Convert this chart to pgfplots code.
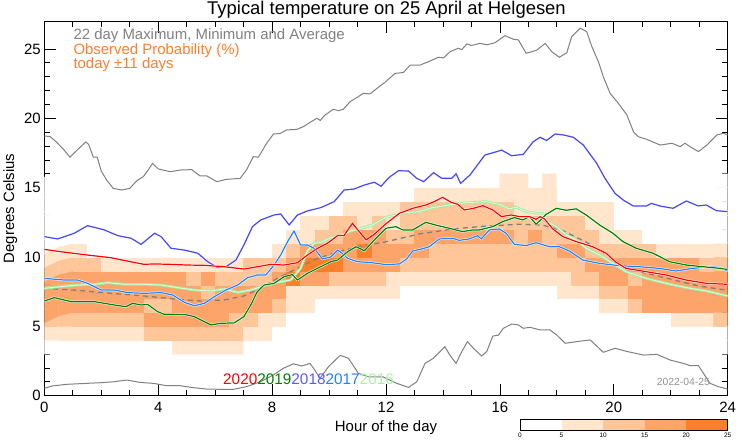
\documentclass[border=0pt]{standalone}
\usepackage{pgfplots}
\usepackage{pgfplotstable}
\pgfplotsset{compat=1.18}
\usepackage{fontspec}
\setmainfont{Liberation Sans}
\definecolor{c1}{RGB}{255,230,204}
\definecolor{c2}{RGB}{255,198,153}
\definecolor{c3}{RGB}{253,164,106}
\definecolor{c4}{RGB}{252,128,44}
\definecolor{cgrey}{RGB}{128,128,128}
\definecolor{corange}{RGB}{255,127,42}
\definecolor{y2020}{RGB}{255,0,0}
\definecolor{y2019}{RGB}{0,128,0}
\definecolor{y2018}{RGB}{70,70,255}
\definecolor{y2017}{RGB}{30,130,255}
\definecolor{y2016}{RGB}{160,235,160}
\definecolor{y2016in}{RGB}{225,255,225}
\definecolor{l2018}{RGB}{90,90,255}
\definecolor{l2016}{RGB}{170,240,170}

% heatmap levels (0 = <5%, 1 = 5-10%, 2 = 10-15%, 3 = 15-20%, 4 = 20-25%)
% rows: 3-4 C up to 15-16 C; 48 half-hour columns each
\pgfplotstableread[row sep=\\]{
c\\
0\\0\\0\\0\\0\\0\\0\\0\\ 0\\1\\1\\1\\1\\1\\0\\0\\ 0\\0\\0\\0\\0\\0\\0\\0\\ 0\\0\\0\\0\\0\\0\\0\\0\\ 0\\0\\0\\0\\0\\0\\0\\0\\ 0\\0\\0\\0\\0\\0\\0\\0\\
1\\1\\1\\1\\1\\1\\1\\2\\ 2\\2\\2\\2\\2\\2\\1\\1\\ 0\\0\\0\\0\\0\\0\\0\\0\\ 0\\0\\0\\0\\0\\0\\0\\0\\ 0\\0\\0\\0\\0\\0\\0\\0\\ 0\\0\\0\\0\\0\\0\\0\\0\\
2\\2\\2\\2\\2\\2\\2\\3\\ 3\\3\\3\\3\\3\\2\\2\\1\\ 1\\0\\0\\0\\0\\0\\0\\0\\ 0\\0\\0\\0\\0\\0\\0\\0\\ 0\\0\\0\\0\\0\\0\\0\\0\\ 0\\0\\0\\0\\1\\1\\1\\2\\
3\\3\\3\\3\\3\\3\\3\\2\\ 2\\3\\3\\3\\3\\3\\3\\3\\ 2\\1\\1\\0\\0\\0\\0\\0\\ 0\\0\\0\\0\\0\\0\\0\\0\\ 0\\0\\0\\0\\0\\0\\0\\1\\ 1\\2\\3\\3\\3\\3\\3\\3\\
3\\3\\3\\3\\3\\3\\3\\3\\ 3\\3\\3\\2\\3\\3\\3\\3\\ 3\\1\\1\\1\\1\\1\\1\\1\\ 1\\0\\0\\0\\0\\0\\0\\0\\ 0\\0\\0\\0\\1\\1\\1\\2\\ 2\\3\\3\\3\\3\\3\\3\\3\\
3\\3\\3\\3\\3\\3\\3\\3\\ 3\\3\\2\\3\\2\\2\\2\\2\\ 3\\4\\3\\3\\2\\2\\2\\2\\ 1\\1\\1\\1\\1\\1\\1\\1\\ 1\\1\\1\\1\\1\\2\\2\\3\\ 3\\2\\3\\3\\3\\3\\3\\3\\
2\\2\\2\\2\\1\\1\\1\\1\\ 1\\1\\1\\1\\1\\1\\2\\2\\ 2\\3\\4\\4\\4\\3\\3\\3\\ 3\\2\\2\\2\\2\\2\\2\\2\\ 2\\2\\2\\2\\2\\2\\3\\3\\ 3\\3\\3\\3\\3\\3\\2\\2\\
1\\1\\1\\0\\0\\0\\0\\0\\ 0\\0\\0\\0\\0\\0\\0\\0\\ 1\\2\\3\\3\\3\\3\\4\\3\\ 3\\3\\3\\2\\2\\2\\2\\2\\ 2\\2\\2\\2\\3\\3\\2\\2\\ 2\\2\\2\\1\\1\\1\\1\\1\\
0\\0\\0\\0\\0\\0\\0\\0\\ 0\\0\\0\\0\\0\\0\\0\\0\\ 0\\1\\1\\2\\2\\3\\3\\3\\ 2\\2\\3\\3\\3\\3\\3\\3\\ 3\\2\\3\\2\\2\\2\\2\\1\\ 1\\1\\0\\0\\0\\0\\0\\0\\
0\\0\\0\\0\\0\\0\\0\\0\\ 0\\0\\0\\0\\0\\0\\0\\0\\ 0\\0\\1\\1\\2\\2\\1\\2\\ 1\\2\\2\\2\\2\\2\\2\\2\\ 2\\2\\2\\2\\2\\2\\1\\1\\ 0\\0\\0\\0\\0\\0\\0\\0\\
0\\0\\0\\0\\0\\0\\0\\0\\ 0\\0\\0\\0\\0\\0\\0\\0\\ 0\\0\\0\\0\\0\\1\\1\\1\\ 1\\2\\2\\2\\2\\2\\2\\2\\ 2\\1\\1\\1\\1\\1\\1\\1\\ 0\\0\\0\\0\\0\\0\\0\\0\\
0\\0\\0\\0\\0\\0\\0\\0\\ 0\\0\\0\\0\\0\\0\\0\\0\\ 0\\0\\0\\0\\0\\0\\0\\0\\ 0\\0\\1\\1\\1\\1\\1\\1\\ 1\\1\\1\\1\\0\\0\\0\\0\\ 0\\0\\0\\0\\0\\0\\0\\0\\
0\\0\\0\\0\\0\\0\\0\\0\\ 0\\0\\0\\0\\0\\0\\0\\0\\ 0\\0\\0\\0\\0\\0\\0\\0\\ 0\\0\\0\\0\\0\\0\\0\\0\\ 1\\1\\0\\1\\0\\0\\0\\0\\ 0\\0\\0\\0\\0\\0\\0\\0\\
}\heatdata

\begin{document}
\begin{tikzpicture}
\useasboundingbox (0,0) rectangle (742bp,445bp);
\begin{axis}[
  at={(44.3bp,49.3bp)}, anchor=south west,
  scale only axis, width=683.4bp, height=374.5bp,
  xmin=0, xmax=24, ymin=0, ymax=27,
  xtick={0,4,...,24}, ytick={0,5,...,25},
  minor x tick num=3, minor y tick num=4,
  major tick length=12bp, minor tick length=6bp,
  tick align=inside, tick pos=both,
  axis line style={line width=1bp},
  tick style={black, line width=0.8bp},
  tick label style={font=\fontsize{15}{18}\selectfont},
  /pgf/number format/assume math mode=true,
  xticklabel style={yshift=-3bp},
  colormap={heat}{rgb255=(255,255,255) rgb255=(255,230,204) rgb255=(255,198,153) rgb255=(253,164,106) rgb255=(252,128,44)},
  colormap access=direct,
]
\addplot[matrix plot*, mesh/cols=48, point meta=explicit]
  table[x index=0, y index=0, x expr={0.25+0.5*mod(\coordindex,48)}, y expr={3.5+floor(\coordindex/48)}, meta index=0] {\heatdata};

% 22 day maximum
\addplot[cgrey, line width=1bp] coordinates {
(0,18.72) (0.2,18.69) (0.42,18.3) (0.7,17.7) (0.9,17.2) (1.2,17.8) (1.46,18.3) (1.56,18.1) (1.72,17.2) (1.86,17.2) (2.0,16.2) (2.19,15.55) (2.42,14.95) (2.72,14.83) (3.0,14.95) (3.25,15.5) (3.48,15.8) (3.65,16.27) (3.8,16.75) (4.0,16.35) (4.42,16.15) (4.77,16.27) (5.18,16.3) (5.47,15.84) (5.7,15.85) (6.06,15.43) (6.4,15.6) (6.76,15.65) (6.87,15.65) (7.1,16.27) (7.34,17.23) (7.52,17.2) (7.81,18.2) (8.05,18.87) (8.28,18.9) (8.51,19.16) (8.87,19.2) (9.1,19.4) (9.33,19.7) (9.57,20.0) (9.69,19.85) (9.86,20.24) (10.15,20.65) (10.33,20.55) (10.5,20.65) (10.74,21.2) (11.03,21.56) (11.2,21.8) (11.44,21.76) (11.79,22.33) (11.95,22.57) (12.32,23.24) (12.61,23.3) (12.85,23.84) (13.2,23.84) (13.49,24.08) (13.84,24.4) (14.02,24.35) (14.25,24.8) (14.54,25.05) (14.66,24.95) (14.84,25.36) (15.0,25.25) (15.3,25.4) (15.54,25.3) (15.83,25.45) (16.18,25.96) (16.47,25.7) (16.65,25.65) (16.92,24.69) (17.12,24.8) (17.3,24.92) (17.59,25.4) (17.82,24.8) (18.09,24.4) (18.35,24.73) (18.52,25.88) (18.82,26.5) (19.05,26.24) (19.23,25.16) (19.46,24.08) (19.63,23.0) (19.87,21.8) (20.16,21.08) (20.46,20.24) (20.69,19.03) (20.86,18.67) (21.16,18.48) (21.63,18.07) (22.04,18.2) (22.33,17.96) (22.5,18.2) (22.68,17.95) (22.97,17.6) (23.27,18.07) (23.62,18.8) (23.85,18.92) (24,18.8)
};
% 22 day minimum
\addplot[cgrey, line width=1bp] coordinates {
(0,0.53) (0.27,0.7) (0.79,0.82) (1.49,0.89) (2.0,0.94) (2.42,1.0) (2.9,1.13) (3.36,0.96) (3.83,0.89) (4.3,0.72) (4.77,0.72) (5.23,0.58) (5.7,0.48) (6.17,0.46) (6.64,0.46) (7.1,0.65) (7.58,1.0) (8.04,1.49) (8.39,1.97) (8.75,2.3) (9.04,2.14) (9.33,2.33) (9.5,1.85) (9.68,1.25) (9.98,2.09) (10.39,2.91) (10.68,2.7) (11.03,1.61) (11.4,1.35) (11.9,1.35) (12.38,0.89) (12.79,0.6) (13.08,1.0) (13.37,2.33) (13.66,2.69) (14.07,3.53) (14.25,2.9) (14.46,2.33) (14.66,3.17) (14.86,3.9) (15.07,3.42) (15.36,2.86) (15.54,3.19) (15.75,4.3) (15.95,4.37) (16.12,4.86) (16.42,5.17) (16.65,5.1) (16.82,4.86) (17.06,4.93) (17.41,4.74) (17.76,4.74) (18.0,4.37) (18.29,3.78) (18.7,3.9) (19.17,4.02) (19.4,3.58) (19.63,3.13) (20.05,3.42) (20.46,3.19) (21.04,2.93) (21.51,2.98) (21.98,2.57) (22.44,2.33) (22.68,2.17) (22.97,2.17) (23.15,1.61) (23.38,0.89) (23.67,0.65) (24,0.48)
};
% 22 day average
\addplot[cgrey, line width=1.3bp, dash pattern=on 5bp off 4bp] coordinates {
(0,7.74) (1.16,7.6) (2.33,7.38) (3.5,7.19) (4.67,6.95) (5.49,6.83) (6.31,6.9) (7.01,7.19) (7.6,7.74) (8.18,8.46) (8.89,9.18) (9.59,9.9) (10.53,10.5) (11.7,10.99) (12.0,11.1) (13.17,11.66) (14.34,12.02) (15.51,12.23) (16.68,12.36) (17.5,12.3) (18.21,11.9) (19.1,11.0) (19.61,10.34) (20.2,9.55) (21,8.9) (22,8.4) (23,7.9) (24,7.6)
};
% 2016
\addplot[y2016, line width=2.6bp] coordinates {
(0,7.74) (0.58,7.86) (1.17,7.98) (1.76,8.03) (2.23,8.15) (2.81,8.03) (3.51,8.03) (4.1,7.98) (4.69,7.79) (5.27,7.62) (5.85,7.55) (6.31,7.7) (6.79,7.45) (7.25,7.62) (7.72,7.93) (8.18,8.17) (8.65,8.34) (9.0,9.18) (9.24,10.43) (9.48,10.99) (9.71,11.05) (10.06,11.39) (10.41,11.56) (10.77,11.87) (11.12,12.07) (11.53,12.31) (12.0,12.87) (12.35,13.03) (12.71,13.2) (13.17,13.27) (13.64,13.56) (14.1,13.7) (14.57,13.87) (15.05,13.94) (15.51,13.99) (15.98,13.8) (16.34,13.46) (16.57,13.6) (16.92,13.27) (17.27,13.15) (17.5,13.15) (17.68,12.55) (17.98,12.19) (18.33,11.59) (18.68,11.23) (19.03,10.63) (19.5,10.14) (19.97,9.54) (20.43,8.94) (21.14,8.46) (21.84,8.1) (22.55,7.79) (23.25,7.55) (24,7.19)
};
\addplot[y2016in, line width=0.8bp] coordinates {
(0,7.74) (0.58,7.86) (1.17,7.98) (1.76,8.03) (2.23,8.15) (2.81,8.03) (3.51,8.03) (4.1,7.98) (4.69,7.79) (5.27,7.62) (5.85,7.55) (6.31,7.7) (6.79,7.45) (7.25,7.62) (7.72,7.93) (8.18,8.17) (8.65,8.34) (9.0,9.18) (9.24,10.43) (9.48,10.99) (9.71,11.05) (10.06,11.39) (10.41,11.56) (10.77,11.87) (11.12,12.07) (11.53,12.31) (12.0,12.87) (12.35,13.03) (12.71,13.2) (13.17,13.27) (13.64,13.56) (14.1,13.7) (14.57,13.87) (15.05,13.94) (15.51,13.99) (15.98,13.8) (16.34,13.46) (16.57,13.6) (16.92,13.27) (17.27,13.15) (17.5,13.15) (17.68,12.55) (17.98,12.19) (18.33,11.59) (18.68,11.23) (19.03,10.63) (19.5,10.14) (19.97,9.54) (20.43,8.94) (21.14,8.46) (21.84,8.1) (22.55,7.79) (23.25,7.55) (24,7.19)
};
% 2017
\addplot[y2017, line width=1.2bp, preaction={draw=white, line width=2.2bp}] coordinates {
(0,8.46) (0.7,8.34) (1.17,8.34) (1.52,8.1) (1.99,7.62) (2.46,7.62) (2.93,7.43) (3.51,7.38) (4.1,7.43) (4.51,7.26) (4.92,6.73) (5.27,6.49) (5.62,6.66) (5.97,7.14) (6.38,7.62) (6.79,7.98) (7.14,8.51) (7.48,8.7) (7.78,8.7) (8.07,9.42) (8.3,10.14) (8.54,11.1) (8.77,11.87) (9.0,10.87) (9.24,10.87) (9.48,10.62) (9.77,9.86) (10.06,10.0) (10.3,10.5) (10.47,10.26) (10.65,9.9) (11.0,9.66) (11.47,9.6) (12.0,9.45) (12.47,9.5) (12.71,9.83) (12.94,10.43) (13.29,10.6) (13.52,10.74) (13.87,11.3) (14.34,11.35) (14.57,11.2) (14.92,11.3) (15.22,11.54) (15.34,11.3) (15.63,11.95) (15.98,12.02) (16.22,11.71) (16.51,10.91) (16.92,10.82) (17.27,11.03) (17.74,10.74) (18.09,10.74) (18.44,10.43) (18.91,9.78) (19.5,9.54) (20.2,9.37) (20.9,9.3) (21.6,9.18) (22.18,8.99) (22.77,9.18) (23.36,9.3) (23.72,9.25) (24,8.99)
};
% 2018
\addplot[y2018, line width=1.2bp, preaction={draw=white, line width=2.2bp}] coordinates {
(0,11.47) (0.47,11.3) (1.05,11.71) (1.52,12.26) (2.11,11.95) (2.58,11.54) (3.05,11.35) (3.4,10.91) (3.63,11.3) (3.87,11.71) (4.1,11.47) (4.45,10.63) (4.92,10.5) (5.39,10.27) (5.74,9.66) (6.09,9.23) (6.38,9.3) (6.73,9.78) (7.01,10.87) (7.31,12.19) (7.6,12.67) (8.07,13.03) (8.3,13.1) (8.6,12.31) (8.89,13.03) (9.24,13.32) (9.71,13.56) (10.18,13.99) (10.53,14.83) (10.88,14.9) (11.24,15.19) (11.59,15.39) (11.83,15.1) (12.0,15.5) (12.14,15.79) (12.44,16.22) (12.79,16.2) (13.08,15.67) (13.32,15.43) (13.67,16.08) (13.96,15.67) (14.31,15.67) (14.46,16.0) (14.62,15.31) (14.95,15.91) (15.47,17.35) (15.88,17.59) (16.06,17.71) (16.41,17.3) (16.82,17.4) (17.17,18.31) (17.41,18.63) (17.64,18.4) (17.94,18.87) (18.23,18.8) (18.58,18.63) (18.93,18.07) (19.4,16.75) (19.69,15.67) (20.04,14.59) (20.33,14.11) (20.68,13.68) (21.15,13.68) (21.32,13.87) (21.61,13.68) (22.08,13.51) (22.55,14.04) (22.96,13.68) (23.25,13.75) (23.6,13.34) (24,13.27)
};
% 2019
\addplot[y2019, line width=1.2bp, preaction={draw=white, line width=2.2bp}] coordinates {
(0,6.83) (0.35,7.07) (0.94,6.78) (1.76,6.78) (2.46,6.54) (2.87,6.42) (3.1,6.66) (3.4,6.54) (3.63,6.58) (3.98,6.06) (4.21,5.87) (4.92,5.86) (5.27,5.7) (5.62,5.34) (5.85,5.1) (6.2,5.22) (6.67,5.25) (7.01,5.7) (7.25,6.54) (7.48,7.5) (7.72,7.98) (8.07,8.1) (8.42,8.58) (8.71,8.73) (8.89,8.34) (9.24,8.82) (9.59,9.18) (10.06,9.66) (10.3,9.78) (10.65,10.38) (10.95,10.74) (11.24,10.45) (11.59,11.23) (12.0,12.07) (12.35,12.19) (12.59,11.95) (12.94,11.95) (13.4,12.5) (13.75,12.3) (14.22,12.07) (14.69,11.83) (15.05,11.95) (15.28,11.95) (15.75,12.19) (16.1,12.55) (16.51,12.84) (16.8,12.67) (17.04,12.91) (17.27,12.36) (17.63,13.08) (17.98,13.51) (18.33,13.37) (18.68,13.47) (19.03,13.03) (19.5,12.31) (19.97,11.71) (20.32,11.11) (20.79,10.63) (21.38,10.27) (21.96,9.66) (22.55,9.42) (23.13,9.3) (23.72,9.18) (24,9.1)
};
% 2020
\addplot[y2020, line width=1.2bp, preaction={draw=white, line width=2.2bp}] coordinates {
(0,10.55) (0.58,10.38) (1.52,10.14) (2.33,9.95) (3.03,9.66) (3.5,9.47) (3.85,9.5) (4.44,9.47) (5.02,9.42) (5.6,9.4) (6.31,9.3) (7.01,9.13) (7.48,9.3) (7.95,9.47) (8.42,9.42) (8.89,9.59) (9.24,10.14) (9.59,10.62) (9.95,11.0) (10.3,11.54) (10.53,11.56) (10.82,12.43) (11.06,11.83) (11.3,11.23) (11.59,11.64) (12.0,12.4) (12.47,13.15) (12.94,13.51) (13.4,13.75) (13.69,13.99) (13.99,14.3) (14.29,13.94) (14.52,13.8) (14.75,13.39) (15.05,13.5) (15.4,13.7) (15.75,13.39) (16.05,12.91) (16.4,13.03) (16.69,12.91) (17.04,12.91) (17.27,12.72) (17.41,12.91) (17.57,12.74) (17.86,12.02) (18.21,11.47) (18.68,11.11) (19.26,10.74) (19.73,10.27) (20.08,9.62) (20.43,9.18) (21.14,8.94) (21.84,8.7) (22.54,8.34) (23.25,8.1) (24,8.03)
};
\end{axis}

% title and annotations
\node[anchor=base, inner sep=0, font=\fontsize{18.5}{22}\selectfont] at (386.5bp,430bp) {Typical temperature on 25 April at Helgesen};
\node[anchor=base west, inner sep=0, text=cgrey, font=\fontsize{15}{18}\selectfont] at (73.3bp,405.7bp) {22 day Maximum, Minimum and Average};
\node[anchor=base west, inner sep=0, text=corange, font=\fontsize{15}{18}\selectfont] at (73.3bp,390.5bp) {Observed Probability (\%)};
\node[anchor=base west, inner sep=0, text=corange, font=\fontsize{15}{18}\selectfont] at (73.3bp,376.3bp) {today ±11 days};
\node[anchor=base west, inner sep=0, font=\fontsize{15.4}{18}\selectfont] at (223bp,60bp) {\textcolor{y2020}{2020}\textcolor{y2019}{2019}\textcolor{l2018}{2018}\textcolor{y2017}{2017}\textcolor{l2016}{2016}};
\node[anchor=base east, inner sep=0, text=cgrey!85, font=\fontsize{10.4}{12}\selectfont] at (710bp,59.3bp) {2022-04-25};

% axis labels
\node[anchor=base, inner sep=0, rotate=90, font=\fontsize{15}{18}\selectfont] at (14bp,236.5bp) {Degrees Celsius};
\node[anchor=base, inner sep=0, font=\fontsize{15}{18}\selectfont] at (386bp,13.3bp) {Hour of the day};

% colour key
\fill[white] (520bp,15bp) rectangle (561.5bp,26bp);
\fill[c1] (561.5bp,15bp) rectangle (603.1bp,26bp);
\fill[c2] (603.1bp,15bp) rectangle (644.6bp,26bp);
\fill[c3] (644.6bp,15bp) rectangle (686.2bp,26bp);
\fill[c4] (686.2bp,15bp) rectangle (727.7bp,26bp);
\draw[line width=0.8bp] (520bp,15bp) rectangle (727.7bp,26bp);
\foreach \xx/\lab in {520/0,561.5/5,603.1/10,644.6/15,686.2/20,727.7/25}
  \node[inner sep=0, font=\fontsize{6.5}{7}\selectfont] at (\xx bp,9.5bp) {\lab};
\end{tikzpicture}
\end{document}
